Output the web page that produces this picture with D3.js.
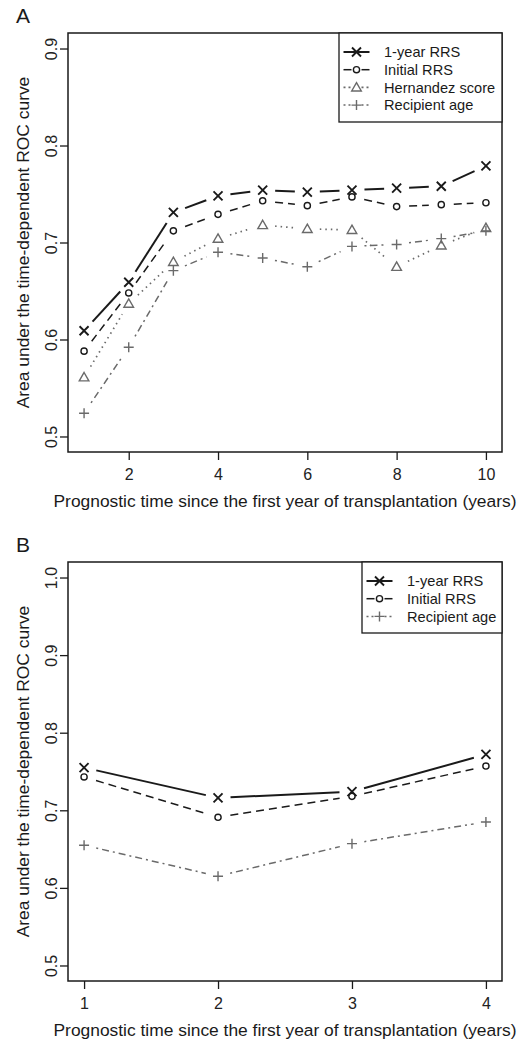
<!DOCTYPE html>
<html>
<head>
<meta charset="utf-8">
<script src="https://cdn.jsdelivr.net/npm/d3@7"></script>
<style>
  html, body { margin: 0; padding: 0; background: #fff; }
  svg { display: block; font-family: "Liberation Sans", Arial, sans-serif; }
  .tick text { fill: #222; }
</style>
</head>
<body>
<svg id="chart" width="519" height="1042"></svg>
<script>
// panel A
const YEARS_A = [1, 2, 3, 4, 5, 6, 7, 8, 9, 10];
const A_ONE_YEAR_RRS = [0.609, 0.659, 0.731, 0.748, 0.754, 0.752, 0.754, 0.756, 0.758, 0.779];
const A_INITIAL_RRS = [0.588, 0.648, 0.712, 0.729, 0.743, 0.738, 0.747, 0.737, 0.739, 0.741];
const A_HERNANDEZ = [0.561, 0.637, 0.680, 0.704, 0.718, 0.714, 0.713, 0.675, 0.697, 0.715];
const A_RECIPIENT_AGE = [0.524, 0.592, 0.671, 0.690, 0.684, 0.675, 0.696, 0.698, 0.704, 0.712];
const X_TICKS_A = [2, 4, 6, 8, 10];
const Y_TICKS_A = [0.5, 0.6, 0.7, 0.8, 0.9];

// panel B
const YEARS_B = [1, 2, 3, 4];
const B_ONE_YEAR_RRS = [0.755, 0.716, 0.724, 0.772];
const B_INITIAL_RRS = [0.743, 0.691, 0.718, 0.757];
const B_RECIPIENT_AGE = [0.655, 0.615, 0.657, 0.685];
const X_TICKS_B = [1, 2, 3, 4];
const Y_TICKS_B = [0.5, 0.6, 0.7, 0.8, 0.9, 1.0];

const X_TITLE = "Prognostic time since the first year of transplantation (years)";
const Y_TITLE = "Area under the time-dependent ROC curve";

const INK = "#1a1a1a";
const GREY = "#6a6a6a";

// line / marker style per series
const STYLES = {
  "1-year RRS": { color: INK, width: 2, dash: null, pch: "times" },
  "Initial RRS": { color: INK, width: 1.5, dash: "8,5", pch: "circle" },
  "Hernandez score": { color: GREY, width: 1.7, dash: "1.5,4", pch: "triangle" },
  "Recipient age": { color: GREY, width: 1.5, dash: "2,4,7,4", pch: "plus" },
};

const svg = d3.select("#chart");

function markerPath(pch) {
  if (pch === "times") return "M-4.5,-4.5L4.5,4.5M-4.5,4.5L4.5,-4.5";
  if (pch === "plus") return "M-5,0L5,0M0,-5L0,5";
  return "M0,-4.8L4.8,3.6L-4.8,3.6Z";
}

function drawMarker(g, x, y, st) {
  if (st.pch === "circle") {
    g.append("circle").attr("cx", x).attr("cy", y).attr("r", 3.1)
      .attr("fill", "none").attr("stroke", st.color).attr("stroke-width", 1.4);
    return;
  }
  g.append("path").attr("transform", `translate(${x},${y})`).attr("d", markerPath(st.pch))
    .attr("fill", "none").attr("stroke", st.color)
    .attr("stroke-width", st.pch === "times" ? 1.9 : 1.4);
}

// R type="b": segments stop short of each point
function drawSeries(g, xs, ys, x, y, st) {
  const gap = 12.5;
  const pts = xs.map((v, i) => [x(v), y(ys[i])]);
  for (let i = 0; i < pts.length - 1; i++) {
    const [x0, y0] = pts[i];
    const [x1, y1] = pts[i + 1];
    const len = Math.hypot(x1 - x0, y1 - y0);
    if (len <= 2 * gap) continue;
    const ux = (x1 - x0) / len, uy = (y1 - y0) / len;
    g.append("line")
      .attr("x1", x0 + ux * gap).attr("y1", y0 + uy * gap)
      .attr("x2", x1 - ux * gap).attr("y2", y1 - uy * gap)
      .attr("stroke", st.color).attr("stroke-width", st.width)
      .attr("stroke-dasharray", st.dash);
  }
  pts.forEach(([px, py]) => drawMarker(g, px, py, st));
}

function drawPanel(cfg) {
  const { left, right, top, bottom } = cfg.box;
  const x = d3.scaleLinear().domain(cfg.xDomain).range([left, right]);
  const y = d3.scaleLinear().domain(cfg.yDomain).range([bottom, top]);
  const g = svg.append("g");

  g.append("text").attr("x", 16).attr("y", cfg.labelY)
    .attr("font-size", 21).attr("fill", INK).text(cfg.label);

  const xAxis = g.append("g").attr("transform", `translate(0,${bottom})`)
    .call(d3.axisBottom(x).tickValues(cfg.xTicks).tickSizeOuter(0).tickSize(8).tickPadding(6).tickFormat(d3.format("d")));
  xAxis.select(".domain").remove();
  xAxis.selectAll(".tick line").attr("stroke", INK).attr("stroke-width", 1.3);
  xAxis.selectAll(".tick text").attr("font-size", 16).attr("dy", "0.9em");

  const yAxis = g.append("g").attr("transform", `translate(${left},0)`)
    .call(d3.axisLeft(y).tickValues(cfg.yTicks).tickSizeOuter(0).tickSize(8).tickFormat(d3.format(".1f")));
  yAxis.select(".domain").remove();
  yAxis.selectAll(".tick line").attr("stroke", INK).attr("stroke-width", 1.3);
  yAxis.selectAll(".tick text")
    .attr("font-size", 16).attr("text-anchor", "middle")
    .attr("x", 0).attr("y", -11).attr("dy", 0).attr("transform", "rotate(-90)");

  g.append("rect").attr("x", left).attr("y", top)
    .attr("width", right - left).attr("height", bottom - top)
    .attr("fill", "none").attr("stroke", INK).attr("stroke-width", 1.5);

  g.append("text").attr("x", (left + right) / 2).attr("y", bottom + 55)
    .attr("text-anchor", "middle").attr("font-size", 17.4).attr("fill", INK).text(X_TITLE);
  g.append("text").attr("transform", `translate(29,${(top + bottom) / 2}) rotate(-90)`)
    .attr("text-anchor", "middle").attr("font-size", 17.4).attr("fill", INK).text(Y_TITLE);

  const plot = g.append("g");
  cfg.series.forEach(([name, values]) => drawSeries(plot, cfg.years, values, x, y, STYLES[name]));

  // legend
  const lg = cfg.legend;
  g.append("rect").attr("x", lg.x).attr("y", top)
    .attr("width", right - lg.x).attr("height", lg.bottom - top)
    .attr("fill", "#fff").attr("stroke", INK).attr("stroke-width", 1.3);
  cfg.series.forEach(([name], i) => {
    const st = STYLES[name];
    const cy = lg.firstY + i * lg.step;
    const cx = lg.x + 17.5;
    if (st.pch === "times") {
      g.append("line").attr("x1", cx - 13).attr("x2", cx + 13).attr("y1", cy).attr("y2", cy)
        .attr("stroke", st.color).attr("stroke-width", st.width);
    } else {
      [[cx - 13, cx - 5], [cx + 5, cx + 13]].forEach(([a, b]) => {
        g.append("line").attr("x1", a).attr("x2", b).attr("y1", cy).attr("y2", cy)
          .attr("stroke", st.color).attr("stroke-width", st.width)
          .attr("stroke-dasharray", st.pch === "circle" ? null : "2,3");
      });
    }
    drawMarker(g, cx, cy, st);
    g.append("text").attr("x", lg.textX).attr("y", cy).attr("dy", "0.36em")
      .attr("font-size", 14.6).attr("fill", INK).text(name);
  });
}

drawPanel({
  label: "A",
  labelY: 23,
  box: { left: 68, right: 502, top: 33, bottom: 452 },
  xDomain: [0.64, 10.36],
  yDomain: [0.484, 0.916],
  xTicks: X_TICKS_A,
  yTicks: Y_TICKS_A,
  years: YEARS_A,
  series: [
    ["1-year RRS", A_ONE_YEAR_RRS],
    ["Initial RRS", A_INITIAL_RRS],
    ["Hernandez score", A_HERNANDEZ],
    ["Recipient age", A_RECIPIENT_AGE],
  ],
  legend: { x: 339, bottom: 122, firstY: 52, step: 17.7, textX: 384 },
});

drawPanel({
  label: "B",
  labelY: 552,
  box: { left: 68, right: 502, top: 562, bottom: 981 },
  xDomain: [0.88, 4.12],
  yDomain: [0.48, 1.02],
  xTicks: X_TICKS_B,
  yTicks: Y_TICKS_B,
  years: YEARS_B,
  series: [
    ["1-year RRS", B_ONE_YEAR_RRS],
    ["Initial RRS", B_INITIAL_RRS],
    ["Recipient age", B_RECIPIENT_AGE],
  ],
  legend: { x: 362, bottom: 633, firstY: 581, step: 17.7, textX: 407 },
});
</script>
</body>
</html>
